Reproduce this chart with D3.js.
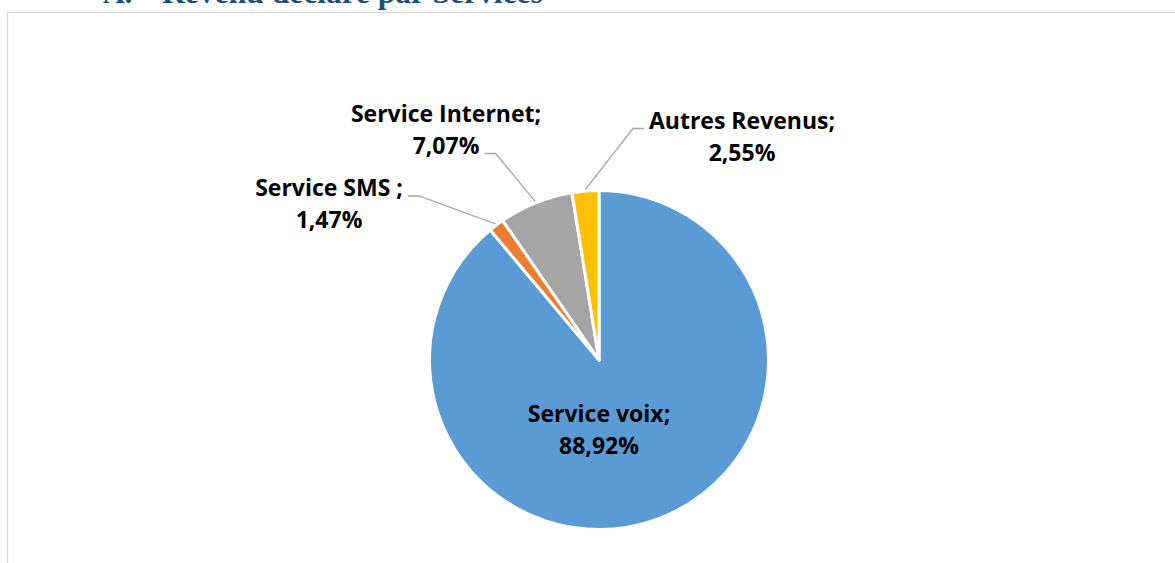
<!DOCTYPE html>
<html lang="fr">
<head>
  <meta charset="UTF-8">
  <title>Revenu déclaré par Services</title>
  <style>
    body {
      margin: 0;
      background: #fff;
    }
    svg {
      display: block;
    }
    .lbl {
      font-family: "Open Sans", sans-serif;
      font-weight: 700;
      font-size: 23px;
      fill: #000;
    }
    .title {
      font-family: "Liberation Serif", serif;
      font-weight: 700;
      fill: #1F4E79;
    }
  </style>
</head>
<body>
  <div id="chart"></div>

  <script src="https://d3js.org/d3.v7.min.js"></script>
  <script>
    // Data (clockwise from 12 o'clock, as in the original)
    const categories = ["Service voix", "Service SMS ", "Service Internet", "Autres Revenus"];
    const shares = [88.92, 1.47, 7.07, 2.55];
    const colors = ["#5B9BD5", "#ED7D31", "#A5A5A5", "#FFC000"];

    // Label placement: offset of the label centre from the pie centre,
    // and which line of the label the leader line attaches to (-1 = none)
    const labelOffsets = [[0, 61.5], [-270, -164], [-153, -238.5], [143, -231.5]];
    const leaderLine = [-1, 0, 1, 0];

    const W = 1175, H = 563;
    const cx = 599, cy = 360, R = 169.5;
    const lineGap = 32;

    const svg = d3.select("#chart")
      .append("svg")
      .attr("width", W)
      .attr("height", H);

    // Chart frame (only left and top edges are inside the picture)
    svg.append("rect")
      .attr("x", 7.5)
      .attr("y", 12.5)
      .attr("width", 1400)
      .attr("height", 800)
      .attr("fill", "none")
      .attr("stroke", "#D9D9D9")
      .attr("stroke-width", 1.3);

    // Section heading, cut off by the top of the picture
    svg.append("text")
      .attr("class", "title")
      .attr("x", 103)
      .attr("y", 3)
      .style("font-size", "30px")
      .text("A.");
    const heading = svg.append("text")
      .attr("class", "title")
      .attr("x", 162)
      .attr("y", 3)
      .style("font-size", "30px")
      .text("Revenu déclaré par Services");
    const hw = heading.node().getComputedTextLength();
    heading.style("font-size", (30 * 381 / hw) + "px");

    const pie = d3.pie().sort(null).value(d => d);
    const arcs = pie(shares);
    const arc = d3.arc().innerRadius(0).outerRadius(R);

    const g = svg.append("g").attr("transform", `translate(${cx},${cy})`);

    g.selectAll("path.slice")
      .data(arcs)
      .enter()
      .append("path")
      .attr("class", "slice")
      .attr("d", arc)
      .attr("fill", (d, i) => colors[i])
      .attr("stroke", "#fff")
      .attr("stroke-width", 3)
      .attr("stroke-linejoin", "round");

    const fmt = v => v.toFixed(2).replace(".", ",") + "%";

    arcs.forEach((a, i) => {
      const [dx, dy] = labelOffsets[i];
      const lines = [categories[i] + ";", fmt(shares[i])];
      const texts = lines.map((t, k) =>
        g.append("text")
          .attr("class", "lbl")
          .attr("x", dx)
          .attr("y", dy + k * lineGap)
          .attr("text-anchor", "middle")
          .text(t)
      );

      const k = leaderLine[i];
      if (k < 0) return;
      const bb = texts[k].node().getBBox();
      const left = dx < 0;
      const sx = left ? bb.x + bb.width + 5 : bb.x - 5;
      const sy = dy + k * lineGap;
      const ex = left ? sx + 11 : sx - 11;
      const mid = (a.startAngle + a.endAngle) / 2;
      const rr = R + 1.5;
      const px = rr * Math.sin(mid), py = -rr * Math.cos(mid);

      g.insert("path", "text")
        .attr("d", d3.line()([[sx, sy], [ex, sy], [px, py]]))
        .attr("fill", "none")
        .attr("stroke", "#A6A6A6")
        .attr("stroke-width", 1.3);
    });
  </script>
</body>
</html>
